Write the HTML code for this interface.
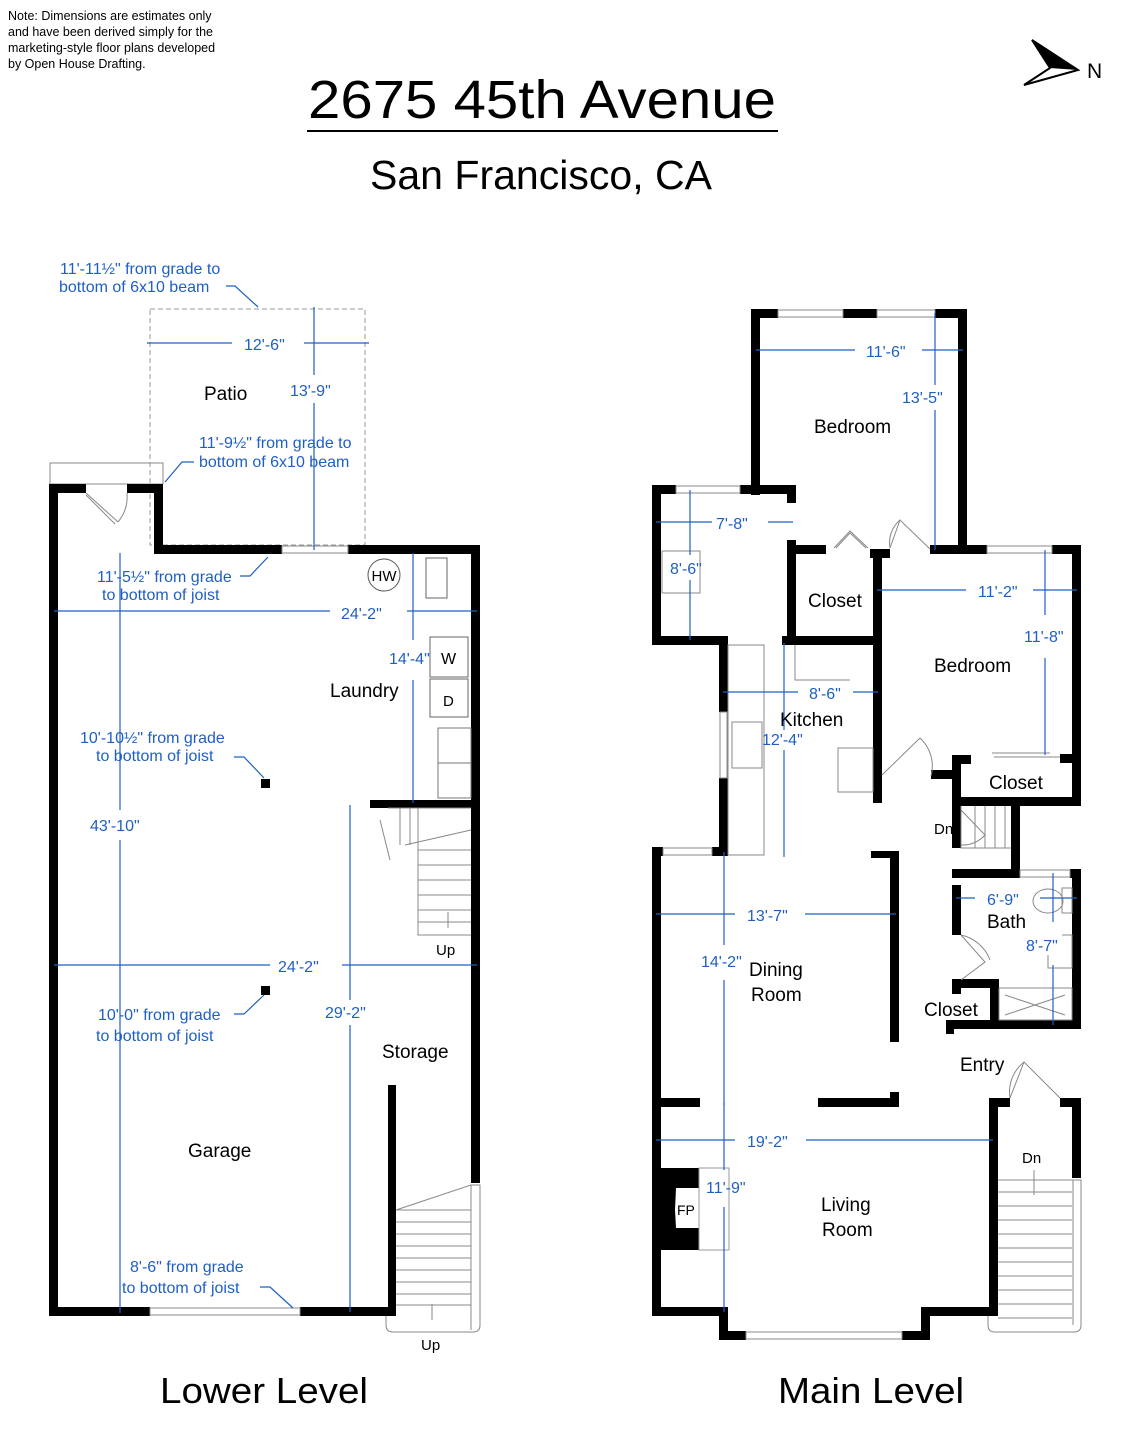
<!DOCTYPE html>
<html><head><meta charset="utf-8"><style>
html,body{margin:0;padding:0;background:#fff}
svg{display:block}
text{font-family:"Liberation Sans",sans-serif}
.b{fill:#1f5fc4;font-size:16px}
.k{fill:#000;font-size:19px}
.d{stroke:#1f5fc4;stroke-width:1.2;fill:none}
.g{stroke:#888;stroke-width:1;fill:none}
.w{fill:#000}
</style></head><body>
<svg width="1124" height="1440" viewBox="0 0 1124 1440" xmlns="http://www.w3.org/2000/svg">
<text x="8" y="20" font-size="12.5">Note: Dimensions are estimates only</text>
<text x="8" y="36" font-size="12.5">and have been derived simply for the</text>
<text x="8" y="52" font-size="12.5">marketing-style floor plans developed</text>
<text x="8" y="68" font-size="12.5">by Open House Drafting.</text>
<text x="542" y="118" font-size="54" text-anchor="middle" textLength="468" lengthAdjust="spacingAndGlyphs">2675 45th Avenue</text>
<line x1="307" y1="131" x2="778" y2="131" stroke="#000" stroke-width="2"/>
<text x="541" y="189" font-size="41" text-anchor="middle" textLength="342" lengthAdjust="spacingAndGlyphs">San Francisco, CA</text>
<polygon points="1032,40 1078,70 1024,85 1050,68" fill="none" stroke="#000" stroke-width="2"/>
<polygon points="1032,40 1078,70 1050,68" fill="#000"/>
<text x="1087" y="78" font-size="21">N</text>

<!-- LOWER LEVEL -->
<rect x="150" y="309" width="215" height="236" fill="none" stroke="#999" stroke-dasharray="5,3"/>
<rect x="50" y="463" width="113" height="21" fill="none" stroke="#888"/>
<g class="w">
<rect x="49" y="484" width="9" height="832"/>
<rect x="49" y="484" width="37" height="9"/>
<rect x="127" y="484" width="36" height="9"/>
<rect x="154" y="484" width="9" height="70"/>
<rect x="154" y="545" width="128" height="9"/>
<rect x="348" y="545" width="132" height="9"/>
<rect x="471" y="545" width="9" height="638"/>
<rect x="49" y="1307" width="101" height="9"/>
<rect x="300" y="1307" width="96" height="9"/>
<rect x="388" y="1085" width="8" height="231"/>
<rect x="370" y="800" width="110" height="8"/>
<rect x="261" y="779" width="9" height="9"/>
<rect x="261" y="986" width="9" height="9"/>
</g>
<rect x="282" y="546" width="66" height="7" fill="none" stroke="#888"/>
<rect x="150" y="1308" width="150" height="7" fill="none" stroke="#888"/>
<path class="g" d="M86,493 L118,522 M86,495 L115,524 M118,522 A40,40 0 0 0 127,493"/>
<circle cx="384" cy="575" r="16" fill="none" stroke="#555"/>
<text x="384" y="581" font-size="15" text-anchor="middle">HW</text>
<rect x="426" y="558" width="21" height="40" fill="none" stroke="#666"/>
<rect x="430" y="637" width="38" height="40" fill="none" stroke="#666"/>
<text x="441" y="664" font-size="16">W</text>
<rect x="430" y="679" width="38" height="38" fill="none" stroke="#666"/>
<text x="443" y="706" font-size="15">D</text>
<rect x="438" y="728" width="33" height="35" fill="none" stroke="#777"/>
<rect x="438" y="763" width="33" height="35" fill="none" stroke="#777"/>
<g class="g">
<path d="M388,808 L418,808 L418,935 L471,935"/>
<path d="M388,808 L471,808"/>
<line x1="400" y1="808" x2="400" y2="845"/><line x1="410" y1="808" x2="410" y2="845"/>
<line x1="418" y1="850" x2="471" y2="850"/><line x1="418" y1="865" x2="471" y2="865"/><line x1="418" y1="880" x2="471" y2="880"/><line x1="418" y1="895" x2="471" y2="895"/><line x1="418" y1="910" x2="471" y2="910"/><line x1="418" y1="922" x2="471" y2="922"/>
<path d="M405,845 L471,830 M380,820 L390,860"/>
<line x1="448" y1="912" x2="448" y2="928"/>
</g>
<text x="436" y="955" font-size="15">Up</text>
<g class="g">
<path d="M396,1210 L471,1185 L480,1185 L480,1325 Q480,1332 473,1332 L393,1332 Q386,1332 386,1325 L386,1316"/>
<line x1="396" y1="1210" x2="471" y2="1210"/>
<line x1="396" y1="1222" x2="471" y2="1222"/><line x1="396" y1="1234" x2="471" y2="1234"/><line x1="396" y1="1246" x2="471" y2="1246"/><line x1="396" y1="1258" x2="471" y2="1258"/><line x1="396" y1="1270" x2="471" y2="1270"/><line x1="396" y1="1282" x2="471" y2="1282"/><line x1="396" y1="1294" x2="471" y2="1294"/><line x1="396" y1="1305" x2="471" y2="1305"/>
<line x1="471" y1="1185" x2="471" y2="1330"/>
<line x1="432" y1="1304" x2="432" y2="1320"/>
</g>
<text x="421" y="1350" font-size="15">Up</text>
<g class="d">
<line x1="147" y1="343" x2="232" y2="343"/><line x1="304" y1="343" x2="369" y2="343"/>
<line x1="314" y1="307" x2="314" y2="375"/><line x1="314" y1="403" x2="314" y2="550"/>
<line x1="54" y1="611" x2="330" y2="611"/><line x1="407" y1="611" x2="477" y2="611"/>
<line x1="120" y1="553" x2="120" y2="810"/><line x1="120" y1="840" x2="120" y2="1313"/>
<line x1="413" y1="553" x2="413" y2="640"/><line x1="413" y1="680" x2="413" y2="803"/>
<line x1="54" y1="965" x2="270" y2="965"/><line x1="342" y1="965" x2="477" y2="965"/>
<line x1="350" y1="805" x2="350" y2="1000"/><line x1="350" y1="1025" x2="350" y2="1312"/>
<path d="M226,286 L235,286 L258,307"/><path d="M194,462 L182,462 L165,482"/>
<path d="M240,576 L250,576 L268,557"/><path d="M234,757 L244,757 L264,778"/>
<path d="M234,1014 L244,1014 L264,995"/><path d="M260,1287 L270,1287 L293,1308"/>
</g>
<text class="b" x="60" y="274">11'-11½" from grade to</text>
<text class="b" x="59" y="292">bottom of 6x10 beam</text>
<text class="b" x="244" y="350" font-size="18">12'-6"</text>
<text class="b" x="290" y="396" font-size="18">13'-9"</text>
<text class="k" x="204" y="400">Patio</text>
<text class="b" x="199" y="448">11'-9½" from grade to</text>
<text class="b" x="199" y="467">bottom of 6x10 beam</text>
<text class="b" x="97" y="582">11'-5½" from grade</text>
<text class="b" x="102" y="600">to bottom of joist</text>
<text class="b" x="341" y="619" font-size="18">24'-2"</text>
<text class="b" x="389" y="664" font-size="18">14'-4"</text>
<text class="k" x="330" y="697">Laundry</text>
<text class="b" x="80" y="743">10'-10½" from grade</text>
<text class="b" x="96" y="761">to bottom of joist</text>
<text class="b" x="90" y="831" font-size="18">43'-10"</text>
<text class="b" x="278" y="972" font-size="18">24'-2"</text>
<text class="b" x="98" y="1020">10'-0" from grade</text>
<text class="b" x="96" y="1041">to bottom of joist</text>
<text class="b" x="325" y="1018" font-size="18">29'-2"</text>
<text class="k" x="382" y="1058">Storage</text>
<text class="k" x="188" y="1157">Garage</text>
<text class="b" x="130" y="1272">8'-6" from grade</text>
<text class="b" x="122" y="1293">to bottom of joist</text>
<text x="264" y="1403" font-size="36" text-anchor="middle" textLength="208" lengthAdjust="spacingAndGlyphs">Lower Level</text>

<!-- MAIN LEVEL -->
<g class="w">
<rect x="751" y="309" width="9" height="186"/>
<rect x="751" y="309" width="27" height="9"/>
<rect x="843" y="309" width="34" height="9"/>
<rect x="935" y="309" width="32" height="9"/>
<rect x="958" y="309" width="9" height="245"/>
<rect x="652" y="485" width="24" height="9"/>
<rect x="740" y="485" width="56" height="9"/>
<rect x="787" y="485" width="9" height="18"/>
<rect x="652" y="485" width="9" height="160"/>
<rect x="652" y="636" width="76" height="9"/>
<rect x="719" y="636" width="9" height="76"/>
<rect x="719" y="778" width="9" height="78"/>
<rect x="652" y="847" width="11" height="9"/>
<rect x="712" y="847" width="16" height="9"/>
<rect x="787" y="540" width="9" height="105"/>
<rect x="787" y="545" width="39" height="9"/>
<rect x="782" y="636" width="100" height="9"/>
<rect x="873" y="549" width="9" height="254"/>
<rect x="870" y="549" width="20" height="9"/>
<rect x="873" y="768" width="9" height="8"/>
<rect x="930" y="545" width="57" height="9"/>
<rect x="1052" y="545" width="29" height="9"/>
<rect x="1072" y="545" width="9" height="260"/>
<rect x="931" y="770" width="21" height="9"/>
<rect x="952" y="755" width="9" height="93"/>
<rect x="952" y="755" width="19" height="9"/>
<rect x="1060" y="754" width="21" height="9"/>
<rect x="952" y="797" width="129" height="9"/>
<rect x="1011" y="806" width="9" height="72"/>
<rect x="952" y="869" width="68" height="9"/>
<rect x="1070" y="869" width="11" height="9"/>
<rect x="1072" y="869" width="9" height="156"/>
<rect x="952" y="885" width="9" height="50"/>
<rect x="952" y="979" width="38" height="9"/>
<rect x="952" y="979" width="9" height="15"/>
<rect x="990" y="979" width="9" height="50"/>
<rect x="946" y="1020" width="135" height="9"/>
<rect x="946" y="1020" width="8" height="14"/>
<rect x="652" y="847" width="9" height="469"/>
<rect x="890" y="851" width="9" height="191"/>
<rect x="871" y="851" width="28" height="7"/>
<rect x="652" y="1098" width="48" height="9"/>
<rect x="818" y="1098" width="81" height="9"/>
<rect x="890" y="1092" width="9" height="15"/>
<rect x="989" y="1098" width="9" height="218"/>
<rect x="989" y="1098" width="21" height="9"/>
<rect x="1060" y="1098" width="21" height="9"/>
<rect x="1072" y="1098" width="9" height="80"/>
<rect x="652" y="1307" width="76" height="9"/>
<rect x="719" y="1307" width="9" height="33"/>
<rect x="719" y="1331" width="27" height="9"/>
<rect x="902" y="1331" width="28" height="9"/>
<rect x="921" y="1307" width="9" height="33"/>
<rect x="921" y="1307" width="77" height="9"/>
<rect x="661" y="1168" width="38" height="82"/>
</g>
<polygon points="676,1188 699,1188 699,1228 676,1228 675,1210" fill="#fff"/>
<text x="677" y="1215" font-size="14">FP</text>
<rect x="699" y="1168" width="30" height="82" fill="none" stroke="#999"/>
<g class="g">
<rect x="778" y="310" width="65" height="7"/><rect x="877" y="310" width="58" height="7"/>
<rect x="676" y="486" width="64" height="7"/><rect x="987" y="546" width="65" height="7"/>
<rect x="720" y="712" width="7" height="66"/><rect x="663" y="848" width="49" height="7"/>
<rect x="1020" y="870" width="50" height="7"/><rect x="746" y="1332" width="156" height="7"/>
<rect x="728" y="645" width="36" height="210"/>
<rect x="732" y="722" width="30" height="46"/>
<path d="M795,645 L795,680 L850,680"/>
<rect x="838" y="748" width="35" height="44"/>
<rect x="662" y="551" width="38" height="42"/>
<path d="M836,548 L850,533 L866,548 M834,548 L850,531 L868,548"/>
<path d="M890,548 L900,520 L930,549 M900,520 A30,30 0 0 0 890,548"/>
<path d="M882,775 L920,738 M920,738 A38,38 0 0 1 931,776"/>
<path d="M992,753 L1050,753 M994,757 L1060,757"/>
<path d="M961,935 L985,962 L961,980 M961,935 A40,40 0 0 1 990,960"/>
<path d="M1010,1098 L1024,1062 L1060,1098 M1010,1098 A38,38 0 0 1 1024,1062"/>
<rect x="999" y="988" width="73" height="32"/>
<path d="M1005,995 L1065,1015 M1005,1015 L1065,995"/>
<rect x="1062" y="888" width="10" height="25"/>
<ellipse cx="1048" cy="901" rx="15" ry="12"/>
<path d="M1062,935 L1072,935 L1072,968 L1048,968 L1048,955"/>
<path d="M961,806 L961,848 L1011,848"/>
<line x1="975" y1="806" x2="975" y2="848"/><line x1="985" y1="806" x2="985" y2="848"/><line x1="995" y1="806" x2="995" y2="848"/><line x1="1005" y1="806" x2="1005" y2="848"/>
<path d="M961,810 L985,835 M961,845 A30,30 0 0 0 985,835"/>
<path d="M998,1180 L1072,1180 L1081,1180 L1081,1325 Q1081,1332 1074,1332 L995,1332 Q988,1332 988,1325 L988,1316"/>
<line x1="998" y1="1192" x2="1072" y2="1192"/><line x1="998" y1="1206" x2="1072" y2="1206"/><line x1="998" y1="1220" x2="1072" y2="1220"/><line x1="998" y1="1234" x2="1072" y2="1234"/><line x1="998" y1="1248" x2="1072" y2="1248"/><line x1="998" y1="1262" x2="1072" y2="1262"/><line x1="998" y1="1276" x2="1072" y2="1276"/><line x1="998" y1="1290" x2="1072" y2="1290"/><line x1="998" y1="1304" x2="1072" y2="1304"/><line x1="998" y1="1318" x2="1072" y2="1318"/>
<line x1="1073" y1="1180" x2="1073" y2="1325"/>
<line x1="1034" y1="1170" x2="1034" y2="1195"/>
</g>
<g class="d">
<line x1="756" y1="350" x2="855" y2="350"/><line x1="922" y1="350" x2="963" y2="350"/>
<line x1="935" y1="313" x2="935" y2="385"/><line x1="935" y1="410" x2="935" y2="550"/>
<line x1="656" y1="522" x2="712" y2="522"/><line x1="768" y1="522" x2="793" y2="522"/>
<line x1="690" y1="490" x2="690" y2="555"/><line x1="690" y1="580" x2="690" y2="640"/>
<line x1="877" y1="590" x2="966" y2="590"/><line x1="1033" y1="590" x2="1077" y2="590"/>
<line x1="1045" y1="550" x2="1045" y2="615"/><line x1="1045" y1="658" x2="1045" y2="755"/>
<line x1="723" y1="692" x2="798" y2="692"/><line x1="853" y1="692" x2="878" y2="692"/>
<line x1="784" y1="643" x2="784" y2="730"/><line x1="784" y1="750" x2="784" y2="857"/>
<line x1="656" y1="914" x2="735" y2="914"/><line x1="805" y1="914" x2="896" y2="914"/>
<line x1="724" y1="852" x2="724" y2="945"/><line x1="724" y1="980" x2="724" y2="1105"/>
<line x1="956" y1="898" x2="975" y2="898"/><line x1="1040" y1="898" x2="1077" y2="898"/>
<line x1="1053" y1="873" x2="1053" y2="922"/><line x1="1053" y1="965" x2="1053" y2="1025"/>
<line x1="656" y1="1140" x2="735" y2="1140"/><line x1="806" y1="1140" x2="993" y2="1140"/>
<line x1="724" y1="1103" x2="724" y2="1170"/><line x1="724" y1="1207" x2="724" y2="1312"/>
</g>
<text class="b" x="866" y="357" font-size="18">11'-6"</text>
<text class="b" x="902" y="403" font-size="18">13'-5"</text>
<text class="k" x="814" y="433">Bedroom</text>
<text class="b" x="716" y="529" font-size="17">7'-8"</text>
<text class="b" x="670" y="574" font-size="17">8'-6"</text>
<text class="k" x="808" y="607" font-size="18">Closet</text>
<text class="b" x="978" y="597" font-size="17">11'-2"</text>
<text class="b" x="1024" y="642" font-size="17">11'-8"</text>
<text class="k" x="934" y="672">Bedroom</text>
<text class="b" x="809" y="699" font-size="17">8'-6"</text>
<text class="k" x="780" y="726">Kitchen</text>
<text class="b" x="762" y="745" font-size="17">12'-4"</text>
<text class="k" x="989" y="789" font-size="18">Closet</text>
<text x="934" y="834" font-size="15">Dn</text>
<text class="b" x="987" y="905" font-size="17">6'-9"</text>
<text class="k" x="987" y="928" font-size="18">Bath</text>
<text class="b" x="1026" y="951" font-size="17">8'-7"</text>
<text class="b" x="747" y="921" font-size="17">13'-7"</text>
<text class="b" x="701" y="967" font-size="17">14'-2"</text>
<text class="k" x="749" y="976">Dining</text>
<text class="k" x="751" y="1001">Room</text>
<text class="k" x="924" y="1016" font-size="18">Closet</text>
<text class="k" x="960" y="1071" font-size="18">Entry</text>
<text class="b" x="747" y="1147" font-size="17">19'-2"</text>
<text x="1022" y="1163" font-size="15">Dn</text>
<text class="b" x="706" y="1193" font-size="17">11'-9"</text>
<text class="k" x="821" y="1211">Living</text>
<text class="k" x="822" y="1236">Room</text>
<text x="871" y="1403" font-size="36" text-anchor="middle" textLength="186" lengthAdjust="spacingAndGlyphs">Main Level</text>
</svg>
</body></html>
